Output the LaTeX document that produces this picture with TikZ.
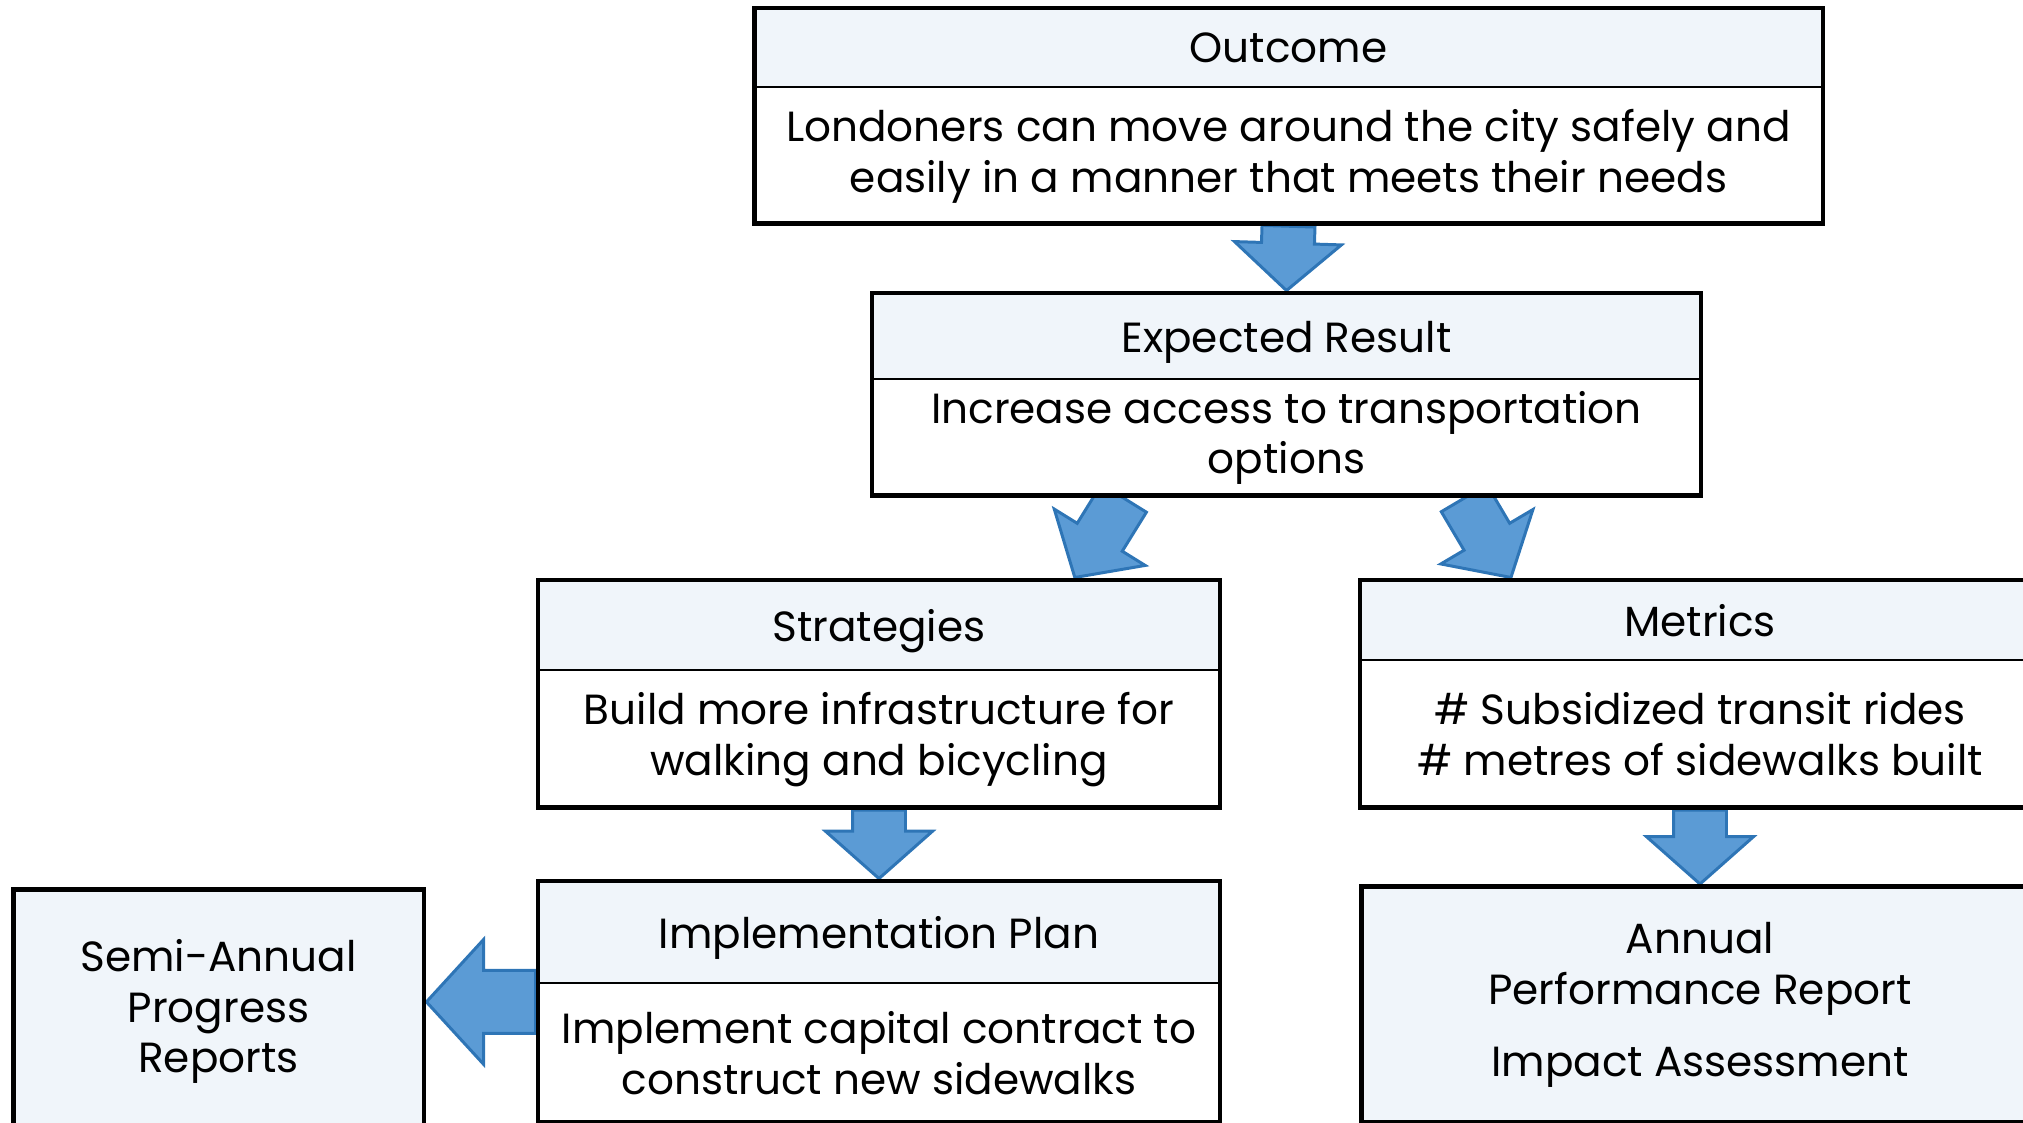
\documentclass[tikz,border=0pt]{standalone}
\usepackage{fontspec}
\setmainfont{Poppins}
\usetikzlibrary{shapes.arrows,fit,calc,backgrounds}
\definecolor{HeadFill}{HTML}{F0F5FA}
\definecolor{ArrowFill}{HTML}{5B9BD5}
\definecolor{ArrowLine}{HTML}{2E75B6}

% block arrow from one point to another
\newcommand{\flowarrow}[3][]{%
  \path let \p1=($(#3)-(#2)$), \n1={atan2(\y1,\x1)}, \n2={veclen(\x1,\y1)} in
    node[bigarrow, #1, rotate=\n1, minimum height=\n2, anchor=tail] at (#2) {};}

\begin{document}
\begin{tikzpicture}[x=0.02cm, y=-0.02cm,
    titlecell/.style={draw, line width=1.2pt, fill=HeadFill, inner sep=0pt, text depth=0pt, align=center, anchor=north, font=\fontsize{24pt}{29pt}\selectfont},
    textcell/.style={fill=white, inner sep=0pt, align=center, anchor=north, font=\fontsize{24pt}{29pt}\selectfont},
    boxframe/.style={draw, line width=2.8pt, inner sep=0pt},
    reportbox/.style={boxframe, fill=HeadFill, align=center, anchor=north, font=\fontsize{24pt}{29pt}\selectfont},
    bigarrow/.style={single arrow, draw=ArrowLine, fill=ArrowFill, line width=1.7pt, inner xsep=0pt, inner ysep=0.5cm,
        single arrow head extend=0.54cm, single arrow tip angle=97, outer sep=0pt},
    widearrow/.style={inner ysep=0.6cm, single arrow head extend=0.62cm, single arrow tip angle=95}]
    \useasboundingbox (0,0) rectangle (2023,1123);
    \clip (0,0) rectangle (2023,1123);

    % outcome
    \node[titlecell, minimum width=21.34cm, minimum height=1.56cm] (outhead) at (1288.5,8) {Outcome};
    \node[textcell, minimum width=21.34cm, minimum height=2.7cm] (outbody) at (outhead.south)
        {Londoners can move around the city safely and\\easily in a manner that meets their needs};
    \node[boxframe, fit=(outhead)(outbody)] (outcome) {};

    % expected result
    \node[titlecell, minimum width=16.54cm, minimum height=1.7cm] (exphead) at (1286.5,293) {Expected Result};
    \node[textcell, minimum width=16.54cm, minimum height=2.3cm] (expbody) at (exphead.south)
        {Increase access to transportation\\options};
    \node[boxframe, fit=(exphead)(expbody)] (expected) {};

    % strategies
    \node[titlecell, minimum width=13.6cm, minimum height=1.78cm] (strhead) at (879,580) {Strategies};
    \node[textcell, minimum width=13.6cm, minimum height=2.72cm] (strbody) at (strhead.south)
        {Build more infrastructure for\\walking and bicycling};
    \node[boxframe, fit=(strhead)(strbody)] (strategies) {};

    % metrics
    \node[titlecell, minimum width=13.56cm, minimum height=1.58cm] (methead) at (1700,580) {Metrics};
    \node[textcell, minimum width=13.56cm, minimum height=2.92cm] (metbody) at (methead.south)
        {\# Subsidized transit rides\\\# metres of sidewalks built};
    \node[boxframe, fit=(methead)(metbody)] (metrics) {};

    % implementation plan
    \node[titlecell, minimum width=13.6cm, minimum height=2.02cm] (imphead) at (879,881) {Implementation Plan};
    \node[textcell, minimum width=13.6cm, minimum height=2.76cm] (impbody) at (imphead.south)
        {Implement capital contract to\\construct new sidewalks};
    \node[boxframe, fit=(imphead)(impbody)] (impl) {};

    % reports
    \node[reportbox, minimum width=8.22cm, minimum height=4.88cm] (semi) at (218.5,887)
        {Semi-Annual\\Progress\\Reports};
    \node[reportbox, minimum width=13.56cm, minimum height=4.72cm] (annual) at (1700,884)
        {Annual\\Performance Report\\[0.42cm]Impact Assessment};

    \coordinate (lefttail) at ($(expected.south west)!0.305!(expected.south east)$);
    \coordinate (lefttip) at ($(strategies.north west)!0.785!(strategies.north east)$);
    \coordinate (righttail) at ($(expected.south west)!0.713!(expected.south east)$);
    \coordinate (righttip) at ($(metrics.north west)!0.224!(metrics.north east)$);
    \coordinate (semitip) at (semi.east |- impl.west);

    \begin{scope}[on background layer]
        \flowarrow{outcome.south}{expected.north}
        \flowarrow{lefttail}{lefttip}
        \flowarrow{righttail}{righttip}
        \flowarrow{strategies.south}{impl.north}
        \flowarrow{metrics.south}{annual.north}
        \flowarrow[widearrow]{impl.west}{semitip}
    \end{scope}
\end{tikzpicture}
\end{document}
